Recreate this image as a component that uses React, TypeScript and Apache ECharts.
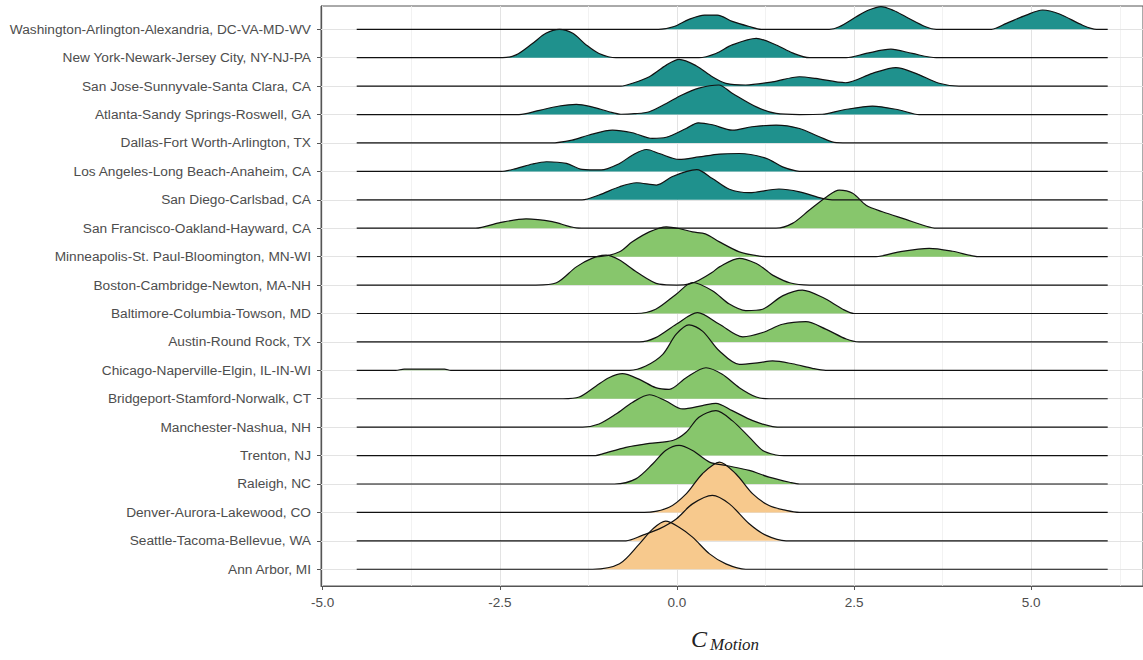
import React, { useEffect, useRef } from "react";
import * as echarts from "echarts";

// Row labels, top to bottom
const metroNames = [
  "Washington-Arlington-Alexandria, DC-VA-MD-WV",
  "New York-Newark-Jersey City, NY-NJ-PA",
  "San Jose-Sunnyvale-Santa Clara, CA",
  "Atlanta-Sandy Springs-Roswell, GA",
  "Dallas-Fort Worth-Arlington, TX",
  "Los Angeles-Long Beach-Anaheim, CA",
  "San Diego-Carlsbad, CA",
  "San Francisco-Oakland-Hayward, CA",
  "Minneapolis-St. Paul-Bloomington, MN-WI",
  "Boston-Cambridge-Newton, MA-NH",
  "Baltimore-Columbia-Towson, MD",
  "Austin-Round Rock, TX",
  "Chicago-Naperville-Elgin, IL-IN-WI",
  "Bridgeport-Stamford-Norwalk, CT",
  "Manchester-Nashua, NH",
  "Trenton, NJ",
  "Raleigh, NC",
  "Denver-Aurora-Lakewood, CO",
  "Seattle-Tacoma-Bellevue, WA",
  "Ann Arbor, MI",
];

// Group of each row (colour class)
const metroGroup = [
  "teal", "teal", "teal", "teal", "teal", "teal", "teal",
  "green", "green", "green", "green", "green", "green", "green", "green", "green", "green",
  "orange", "orange", "orange",
];

// Density curves: [C_Motion, density height in row units]
const washington = [[-0.26,0],[-0.04,0.1],[0.17,0.35],[0.39,0.5],[0.57,0.5],[0.78,0.28],[1.02,0.1],[1.19,0],[2.15,0],[2.29,0.09],[2.53,0.44],[2.69,0.66],[2.88,0.8],[3.06,0.66],[3.23,0.44],[3.51,0.09],[3.66,0],[4.44,0],[4.65,0.21],[4.93,0.5],[5.16,0.68],[5.4,0.54],[5.72,0.15],[5.92,0]];
const newYork = [[-2.46,0],[-2.27,0.1],[-2.04,0.5],[-1.85,0.86],[-1.66,1.0],[-1.47,0.86],[-1.28,0.45],[-1.1,0.15],[-0.86,0],[0.31,0],[0.55,0.15],[0.78,0.45],[1.12,0.68],[1.4,0.45],[1.63,0.17],[1.87,0],[2.39,0],[2.67,0.15],[3.02,0.3],[3.32,0.15],[3.66,0]];
const sanJose = [[-0.79,0],[-0.63,0.1],[-0.39,0.33],[-0.15,0.74],[0.03,0.94],[0.27,0.72],[0.5,0.33],[0.69,0.1],[0.97,0.04],[1.35,0.15],[1.73,0.33],[1.96,0.27],[2.38,0.12],[2.76,0.45],[3.09,0.65],[3.37,0.45],[3.7,0.1],[3.98,0]];
const atlanta = [[-2.23,0],[-1.94,0.15],[-1.66,0.3],[-1.42,0.36],[-1.2,0.27],[-0.96,0.1],[-0.79,0.01],[-0.6,0.03],[-0.39,0.1],[-0.15,0.39],[0.07,0.69],[0.31,0.93],[0.59,1.04],[0.78,0.75],[1.12,0.27],[1.4,0.04],[1.73,0],[2.05,0.01],[2.34,0.16],[2.76,0.3],[3.14,0.16],[3.42,0]];
const dallas = [[-1.78,0],[-1.48,0.1],[-1.24,0.28],[-0.91,0.45],[-0.63,0.36],[-0.35,0.16],[-0.15,0.2],[0.13,0.51],[0.3,0.71],[0.5,0.64],[0.78,0.45],[1.06,0.57],[1.4,0.63],[1.73,0.51],[2.01,0.22],[2.25,0.01],[2.48,0]];
const losAngeles = [[-2.48,0],[-2.27,0.1],[-2.04,0.26],[-1.84,0.34],[-1.56,0.28],[-1.34,0.07],[-1.07,0.05],[-0.81,0.28],[-0.63,0.57],[-0.43,0.77],[-0.25,0.63],[0.03,0.42],[0.31,0.51],[0.6,0.61],[0.88,0.63],[1.26,0.46],[1.49,0.16],[1.68,0.02],[1.8,0]];
const sanDiego = [[-1.34,0],[-1.1,0.17],[-0.81,0.46],[-0.57,0.6],[-0.29,0.52],[-0.07,0.81],[0.14,1.0],[0.28,1.06],[0.5,0.75],[0.74,0.37],[1.02,0.25],[1.44,0.38],[1.73,0.28],[2.05,0.05],[2.19,0]];
const sanFrancisco = [[-2.84,0],[-2.51,0.19],[-2.13,0.33],[-1.76,0.23],[-1.42,0.01],[-1.24,0],[1.4,0],[1.63,0.17],[1.87,0.64],[2.11,1.1],[2.29,1.34],[2.48,1.23],[2.67,0.81],[2.9,0.58],[3.23,0.31],[3.52,0.07],[3.66,0]];
const minneapolis = [[-1.1,0],[-0.81,0.17],[-0.63,0.52],[-0.39,0.87],[-0.15,1.05],[0.03,0.99],[0.22,0.87],[0.4,0.8],[0.6,0.52],[0.88,0.17],[1.16,0.02],[1.3,0],[2.81,0],[3.14,0.17],[3.56,0.29],[3.89,0.19],[4.27,0]];
const boston = [[-1.99,0],[-1.7,0.08],[-1.42,0.64],[-1.2,0.94],[-1.0,1.05],[-0.81,0.88],[-0.57,0.46],[-0.25,0.03],[0,0],[0.17,0.03],[0.31,0.17],[0.5,0.45],[0.6,0.64],[0.88,0.94],[1.12,0.76],[1.26,0.52],[1.35,0.35],[1.59,0.08],[1.87,0]];
const baltimore = [[-0.58,0],[-0.3,0.15],[-0.01,0.68],[0.22,1.09],[0.5,0.8],[0.74,0.33],[0.97,0.1],[1.21,0.15],[1.49,0.62],[1.77,0.82],[2.06,0.56],[2.34,0.15],[2.5,0]];
const austin = [[-0.53,0],[-0.3,0.15],[-0.01,0.62],[0.29,1.03],[0.6,0.62],[0.93,0.18],[1.21,0.33],[1.49,0.62],[1.82,0.71],[2.1,0.45],[2.39,0.1],[2.57,0]];
const chicago = [[-3.97,0],[-3.85,0.04],[-3.28,0.04],[-3.19,0],[-0.67,0],[-0.44,0.15],[-0.2,0.56],[-0.01,1.27],[0.17,1.6],[0.36,1.38],[0.6,0.68],[0.88,0.21],[1.16,0.27],[1.35,0.33],[1.63,0.23],[1.91,0.07],[2.1,0]];
const bridgeport = [[-1.61,0],[-1.38,0.06],[-1.14,0.45],[-0.96,0.74],[-0.77,0.88],[-0.53,0.68],[-0.3,0.39],[-0.11,0.33],[0.13,0.74],[0.41,1.09],[0.64,0.86],[0.88,0.39],[1.12,0.06],[1.3,0]];
const manchester = [[-1.33,0],[-1.1,0.11],[-0.86,0.46],[-0.63,0.87],[-0.39,1.14],[-0.16,0.93],[0.08,0.64],[0.36,0.76],[0.55,0.84],[0.78,0.58],[1.07,0.23],[1.35,0.02],[1.51,0]];
const trenton = [[-1.15,0],[-1.05,0.06],[-0.72,0.29],[-0.39,0.43],[-0.06,0.53],[0.13,0.82],[0.31,1.35],[0.55,1.58],[0.78,1.23],[1.02,0.65],[1.21,0.18],[1.4,0.02],[1.51,0]];
const raleigh = [[-0.88,0],[-0.58,0.18],[-0.34,0.71],[-0.16,1.18],[0.03,1.36],[0.22,1.18],[0.46,0.77],[0.69,0.65],[1.02,0.48],[1.3,0.24],[1.59,0.06],[1.73,0]];
const denver = [[-0.46,0],[-0.11,0.18],[0.13,0.65],[0.36,1.36],[0.6,1.77],[0.83,1.36],[1.07,0.65],[1.3,0.24],[1.54,0.07],[1.73,0]];
const seattle = [[-0.72,0],[-0.49,0.19],[-0.25,0.42],[-0.01,0.77],[0.22,1.3],[0.5,1.6],[0.74,1.3],[1.02,0.6],[1.26,0.19],[1.54,0]];
const annArbor = [[-1.19,0],[-0.81,0.19],[-0.53,0.89],[-0.34,1.42],[-0.16,1.69],[0.03,1.48],[0.22,1.13],[0.46,0.54],[0.69,0.19],[0.97,0]];

const rowCurves = [
  washington, newYork, sanJose, atlanta, dallas, losAngeles, sanDiego,
  sanFrancisco, minneapolis, boston, baltimore, austin, chicago, bridgeport,
  manchester, trenton, raleigh, denver, seattle, annArbor,
];

// Range over which the density baseline is drawn
const curveStart = -4.52;
const curveEnd = 6.08;

// Axis ticks and grid
const xTickValues = [-5, -2.5, 0, 2.5, 5];
const xMinorValues = [-3.75, -1.25, 1.25, 3.75, 6.25];

const groupFill: Record<string, string> = {
  teal: "#1f918d",
  green: "#87c66c",
  orange: "#f7c98d",
};

export default function App() {
  const ref = useRef<HTMLDivElement>(null);

  useEffect(() => {
    if (!ref.current) return;
    const chart = echarts.init(ref.current, null, { renderer: "svg" });
    const n = metroNames.length;
    const rowValues = metroNames.map((_, i) => i);

    const ridgeSeries: any[] = rowCurves.map((pts, i) => {
      const base = n - 1 - i;
      const data = [
        [curveStart, base],
        ...pts.map(([x, h]) => [x, base + h]),
        [curveEnd, base],
      ];
      return {
        type: "line",
        name: metroNames[i],
        data,
        smooth: 0.3,
        symbol: "none",
        silent: true,
        lineStyle: { color: "#111", width: 1.2 },
        areaStyle: { color: groupFill[metroGroup[i]], opacity: 1, origin: base },
        z: 3,
      };
    });

    const gridSeries = {
      type: "line",
      data: [],
      silent: true,
      z: 1,
      markLine: {
        silent: true,
        z: 1,
        symbol: ["none", "none"],
        label: { show: false },
        animation: false,
        data: [
          ...xTickValues.map((v) => ({ xAxis: v, lineStyle: { color: "#e3e3e3", width: 1, type: "solid" } })),
          ...xMinorValues.map((v) => ({ xAxis: v, lineStyle: { color: "#efefef", width: 0.8, type: "solid" } })),
          ...rowValues.map((v) => ({ yAxis: v, lineStyle: { color: "#e3e3e3", width: 1, type: "solid" } })),
        ],
      },
    };

    const labelFont = "Liberation Sans, Arial, sans-serif";

    chart.setOption({
      animation: false,
      grid: {
        left: 321,
        right: 0,
        top: 6,
        bottom: 74,
        show: true,
        borderColor: "#555",
        borderWidth: 1,
        backgroundColor: "transparent",
      },
      xAxis: {
        type: "value",
        min: -5.024,
        max: 6.578,
        splitLine: { show: false },
        axisLine: { show: true, onZero: false, lineStyle: { color: "#555", width: 1 } },
        axisTick: { show: true, length: 4, customValues: xTickValues, lineStyle: { color: "#555" } },
        axisLabel: {
          customValues: xTickValues,
          formatter: (v: number) => v.toFixed(1),
          color: "#4d4d4d",
          fontSize: 13.5,
          fontFamily: labelFont,
          margin: 9,
        },
      },
      yAxis: {
        type: "value",
        min: -0.59,
        max: 19.82,
        splitLine: { show: false },
        axisLine: { show: true, onZero: false, lineStyle: { color: "#555", width: 1 } },
        axisTick: { show: true, length: 4, customValues: rowValues, lineStyle: { color: "#555" } },
        axisLabel: {
          customValues: rowValues,
          formatter: (v: number) => metroNames[n - 1 - Math.round(v)] ?? "",
          color: "#4d4d4d",
          fontSize: 13.7,
          fontFamily: labelFont,
          margin: 10,
        },
      },
      graphic: [
        {
          type: "text",
          left: 691,
          top: 627,
          silent: true,
          style: { text: "C", font: 'italic 24px "Liberation Serif", serif', fill: "#222" },
        },
        {
          type: "text",
          left: 710,
          top: 636,
          silent: true,
          style: { text: "Motion", font: 'italic 17px "Liberation Serif", serif', fill: "#222" },
        },
      ],
      series: [gridSeries, ...ridgeSeries],
    });

    return () => chart.dispose();
  }, []);

  return (
    <div
      ref={ref}
      style={{ position: "absolute", left: 0, top: 0, width: 1143, height: 660 }}
    />
  );
}
